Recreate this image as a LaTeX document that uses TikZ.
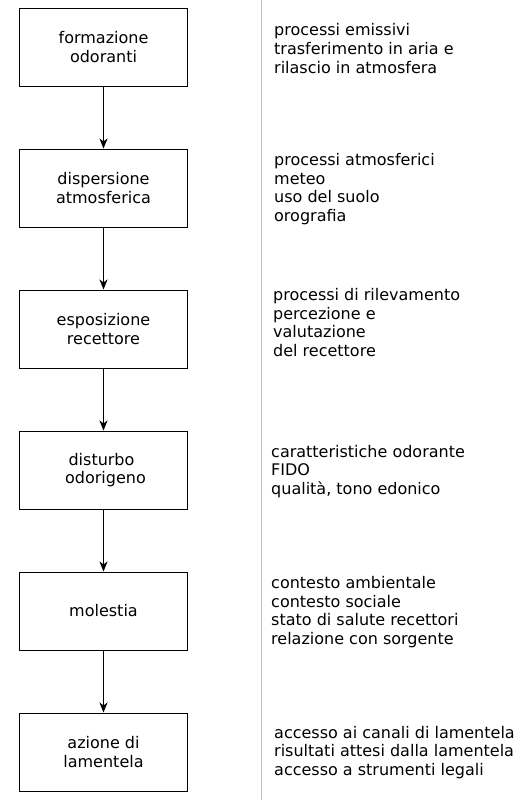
\documentclass[tikz,border=0pt]{standalone}
\usepackage{fontspec}
\setmainfont{DejaVu Sans}
\usetikzlibrary{arrows.meta}
\begin{document}
\begin{tikzpicture}[x=1pt,y=-1pt,
  stagebox/.style={draw=black,line width=1pt,minimum width=168pt,minimum height=78pt,inner sep=0pt,align=center,font=\fontsize{16}{18.6}\selectfont},
  notetext/.style={anchor=west,inner sep=0pt,align=left,font=\fontsize{16}{18.6}\selectfont},
  flowarrow/.style={draw=black,line width=1pt,-{Stealth[length=10pt,width=8pt,inset=3pt]}},
  divider/.style={draw={rgb,255:red,192;green,192;blue,192},line width=1pt}]
\useasboundingbox (0,0) rectangle (519,801);
\fill[white] (0,0) rectangle (519,801);
\coordinate (dtop) at (261.5,0);
\coordinate (dbot) at (261.5,800);
\draw[divider] (dtop) -- (dbot);
\node[stagebox] (b1) at (103.5,47) {formazione\\odoranti};
\node[stagebox] (b2) at (103.5,188) {dispersione\\atmosferica};
\node[stagebox] (b3) at (103.5,329) {esposizione\\recettore};
\node[stagebox] (b4) at (103.5,470) {disturbo\hspace*{4pt}\\\hspace*{4pt}odorigeno};
\node[stagebox] (b5) at (103.5,611) {molestia};
\node[stagebox] (b6) at (103.5,752) {azione di\\lamentela};
\draw[flowarrow] (b1) -- (b2);
\draw[flowarrow] (b2) -- (b3);
\draw[flowarrow] (b3) -- (b4);
\draw[flowarrow] (b4) -- (b5);
\draw[flowarrow] (b5) -- (b6);
\node[notetext] (t1) at (274,48.5) {processi emissivi\\trasferimento in aria e\\rilascio in atmosfera};
\node[notetext] (t2) at (274,189) {processi atmosferici\\meteo\\uso del suolo\\orografia};
\node[notetext] (t3) at (273,322.5) {processi di rilevamento\\percezione e\\valutazione\\del recettore};
\node[notetext] (t4) at (271,471.5) {caratteristiche odorante\\FIDO\\qualità, tono edonico};
\node[notetext] (t5) at (271,612) {contesto ambientale\\contesto sociale\\stato di salute recettori\\relazione con sorgente};
\node[notetext] (t6) at (274,752.5) {accesso ai canali di lamentela\\risultati attesi dalla lamentela\\accesso a strumenti legali};
\end{tikzpicture}
\end{document}
